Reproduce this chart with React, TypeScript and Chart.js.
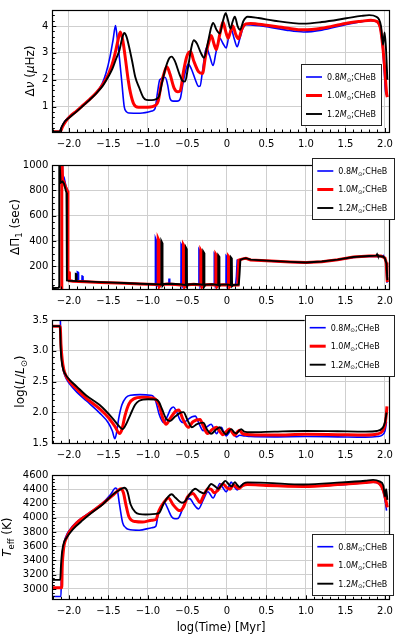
import React, { useEffect, useRef } from "react";
import { Chart, registerables } from "chart.js";

Chart.register(...registerables);

type Pt = [number, number];

// ---------- shared axis ----------
const xMin = -2.21;
const xMax = 2.06;
const xTicks = [-2, -1.5, -1, -0.5, 0, 0.5, 1, 1.5, 2];
const xTickLabels = ["−2.0", "−1.5", "−1.0", "−0.5", "0", "0.5", "1.0", "1.5", "2.0"];
const xTitle = "log(Time) [Myr]";

// ---------- series ----------
const seriesMass = ["0.8", "1.0", "1.2"];
const seriesTag = ";CHeB";

// ---------- panel 1 : Δν ----------
const dnuTicks = [1, 2, 3, 4];
const dnuTickLabels = ["1", "2", "3", "4"];
const dnu08: Pt[] = [
  [-2.21, 0.06], [-2.12, 0.06], [-2.09, 0.25], [-2.05, 0.45], [-1.99, 0.64], [-1.9, 0.85], [-1.82, 1.06],
  [-1.74, 1.27], [-1.65, 1.53], [-1.58, 1.85], [-1.53, 2.25], [-1.48, 2.85], [-1.44, 3.5], [-1.41, 4.02],
  [-1.39, 3.6], [-1.36, 2.8], [-1.33, 1.9], [-1.3, 1.0], [-1.27, 0.8], [-1.24, 0.76], [-1.1, 0.75],
  [-0.95, 0.83], [-0.91, 0.92], [-0.88, 1.5], [-0.85, 2.0], [-0.78, 2.08], [-0.75, 1.8], [-0.72, 1.3],
  [-0.68, 1.2], [-0.63, 1.2], [-0.59, 1.3], [-0.56, 1.8], [-0.53, 2.25], [-0.49, 2.58], [-0.45, 2.4],
  [-0.4, 2.0], [-0.36, 1.75], [-0.34, 1.76], [-0.31, 2.3], [-0.26, 3.2], [-0.22, 2.9], [-0.175, 2.53],
  [-0.14, 3.0], [-0.09, 3.55], [-0.05, 3.35], [-0.01, 3.18], [0.02, 3.55], [0.054, 3.88], [0.09, 3.55],
  [0.13, 3.23], [0.16, 3.5], [0.2, 3.9], [0.24, 4.05], [0.3, 4.04], [0.5, 3.98], [0.75, 3.85], [0.97, 3.78],
  [1.2, 3.85], [1.5, 4.05], [1.7, 4.16], [1.82, 4.2], [1.9, 4.15], [1.94, 3.9], [1.97, 3.2], [1.99, 2.35],
  [2.01, 1.5], [2.02, 1.45],
];
const dnu10: Pt[] = [
  [-2.21, 0.06], [-2.11, 0.06], [-2.08, 0.25], [-2.04, 0.45], [-1.99, 0.62], [-1.9, 0.84], [-1.82, 1.05],
  [-1.74, 1.26], [-1.65, 1.52], [-1.57, 1.83], [-1.5, 2.2], [-1.45, 2.6], [-1.41, 3.05], [-1.38, 3.45],
  [-1.35, 3.78], [-1.32, 3.5], [-1.29, 2.9], [-1.25, 2.0], [-1.22, 1.5], [-1.18, 1.1], [-1.12, 0.97],
  [-1.0, 0.97], [-0.9, 1.05], [-0.87, 1.2], [-0.83, 1.85], [-0.79, 2.3], [-0.76, 2.48], [-0.72, 2.2],
  [-0.67, 1.7], [-0.62, 1.55], [-0.59, 1.6], [-0.55, 2.3], [-0.51, 2.85], [-0.46, 3.05], [-0.42, 2.7],
  [-0.36, 2.3], [-0.31, 2.23], [-0.27, 2.9], [-0.22, 3.5], [-0.2, 3.65], [-0.16, 3.3], [-0.135, 3.12],
  [-0.09, 3.7], [-0.05, 4.15], [-0.02, 3.85], [0.015, 3.55], [0.045, 3.8], [0.075, 4.0], [0.11, 3.7],
  [0.146, 3.53], [0.19, 3.9], [0.24, 4.08], [0.3, 4.1], [0.5, 4.03], [0.75, 3.93], [0.97, 3.86], [1.2, 3.92],
  [1.5, 4.1], [1.7, 4.18], [1.82, 4.22], [1.9, 4.17], [1.94, 3.95], [1.97, 3.3], [2.0, 2.3], [2.02, 1.5],
  [2.03, 1.35],
];
const dnu12: Pt[] = [
  [-2.21, 0.06], [-2.12, 0.06], [-2.09, 0.25], [-2.05, 0.45], [-1.99, 0.6], [-1.9, 0.82], [-1.82, 1.03],
  [-1.74, 1.24], [-1.65, 1.5], [-1.57, 1.78], [-1.5, 2.12], [-1.45, 2.4], [-1.4, 2.8], [-1.36, 3.1],
  [-1.33, 3.5], [-1.3, 3.74], [-1.27, 3.6], [-1.24, 3.25], [-1.2, 2.7], [-1.16, 2.1], [-1.11, 1.7],
  [-1.06, 1.35], [-1.02, 1.25], [-0.95, 1.24], [-0.9, 1.27], [-0.86, 1.38], [-0.82, 1.9], [-0.78, 2.4],
  [-0.73, 2.8], [-0.7, 2.86], [-0.66, 2.7], [-0.6, 2.2], [-0.56, 1.95], [-0.53, 1.93], [-0.49, 2.5],
  [-0.45, 3.2], [-0.42, 3.47], [-0.38, 3.35], [-0.33, 3.0], [-0.29, 2.82], [-0.24, 3.4], [-0.2, 3.95],
  [-0.175, 4.12], [-0.13, 3.85], [-0.09, 3.72], [-0.05, 4.2], [-0.016, 4.48], [0.015, 4.2], [0.045, 3.9],
  [0.07, 4.15], [0.1, 4.35], [0.135, 4.0], [0.165, 3.86], [0.21, 4.2], [0.26, 4.35], [0.4, 4.3], [0.6, 4.2],
  [0.97, 4.09], [1.2, 4.15], [1.51, 4.29], [1.7, 4.38], [1.8, 4.41], [1.89, 4.35], [1.95, 4.0], [1.975, 3.3],
  [1.995, 3.76], [2.012, 3.2], [2.03, 2.0],
];

// ---------- panel 2 : ΔΠ1 ----------
const dpTicks = [200, 400, 600, 800, 1000];
const dpTickLabels = ["200", "400", "600", "800", "1000"];
const dp08: Pt[] = [
  [-2.21, 5], [-2.088, 5], [-2.085, 1100], [-2.08, 925], [-2.06, 900], [-2.04, 840], [-2.025, 810],
  [-2.015, 800], [-2.008, 90], [-1.95, 84], [-1.895, 82], [-1.893, 155], [-1.88, 150], [-1.878, 82],
  [-1.835, 80], [-1.833, 122], [-1.822, 120], [-1.82, 80], [-1.6, 72], [-1.3, 66], [-1.1, 61], [-0.92, 56],
  [-0.907, 55], [-0.905, 424], [-0.893, 405], [-0.89, 40], [-0.87, 55], [-0.8, 60], [-0.735, 58],
  [-0.733, 103], [-0.725, 100], [-0.723, 58], [-0.6, 52], [-0.582, 50], [-0.58, 374], [-0.568, 360],
  [-0.565, 38], [-0.55, 55], [-0.45, 58], [-0.37, 52], [-0.356, 50], [-0.354, 332], [-0.342, 318],
  [-0.339, 38], [-0.325, 52], [-0.25, 56], [-0.175, 50], [-0.162, 50], [-0.16, 299], [-0.148, 288],
  [-0.145, 40], [-0.13, 52], [-0.06, 54], [-0.012, 50], [-0.01, 282], [0.002, 272], [0.005, 40], [0.02, 50],
  [0.08, 52], [0.11, 52], [0.12, 120], [0.13, 248], [0.2, 258], [0.24, 262], [0.3, 250], [0.5, 242],
  [0.8, 232], [1.0, 228], [1.2, 235], [1.4, 250], [1.6, 270], [1.8, 280], [1.95, 278], [1.98, 285],
  [1.99, 272], [2.01, 240], [2.02, 150], [2.025, 70],
];
const dp10: Pt[] = [
  [-2.21, 5], [-2.092, 5], [-2.09, 1100], [-2.08, 880], [-2.065, 870], [-2.045, 830], [-2.03, 810],
  [-2.02, 795], [-2.012, 90], [-2.01, 155], [-1.995, 150], [-1.993, 85], [-1.95, 82], [-1.8, 78],
  [-1.6, 72], [-1.3, 65], [-1.1, 60], [-0.9, 55], [-0.872, 54], [-0.87, 415], [-0.858, 398], [-0.855, 40],
  [-0.835, 55], [-0.75, 60], [-0.65, 55], [-0.552, 50], [-0.55, 366], [-0.538, 352], [-0.535, 38],
  [-0.52, 52], [-0.42, 58], [-0.332, 52], [-0.33, 325], [-0.318, 312], [-0.315, 38], [-0.3, 52],
  [-0.2, 55], [-0.142, 50], [-0.14, 293], [-0.128, 282], [-0.125, 40], [-0.11, 52], [-0.04, 54],
  [0.018, 50], [0.02, 276], [0.032, 266], [0.035, 40], [0.05, 50], [0.13, 52], [0.14, 130], [0.15, 248],
  [0.2, 258], [0.24, 263], [0.3, 250], [0.5, 243], [0.8, 233], [1.0, 229], [1.2, 236], [1.4, 251],
  [1.6, 272], [1.8, 280], [1.95, 280], [2.0, 265], [2.015, 230], [2.025, 120], [2.03, 75],
];
const dp12: Pt[] = [
  [-2.21, 26], [-2.13, 30], [-2.125, 38], [-2.122, 1100], [-2.105, 860], [-2.08, 870], [-2.06, 850],
  [-2.04, 800], [-2.03, 780], [-2.025, 88], [-1.99, 85], [-1.915, 82], [-1.913, 140], [-1.905, 138],
  [-1.903, 82], [-1.8, 80], [-1.6, 74], [-1.3, 67], [-1.1, 62], [-0.9, 58], [-0.832, 56], [-0.83, 399],
  [-0.818, 383], [-0.815, 45], [-0.795, 60], [-0.7, 62], [-0.6, 58], [-0.522, 52], [-0.52, 349],
  [-0.508, 335], [-0.505, 42], [-0.49, 56], [-0.4, 60], [-0.302, 54], [-0.3, 317], [-0.288, 305],
  [-0.285, 40], [-0.27, 55], [-0.18, 58], [-0.112, 52], [-0.11, 287], [-0.098, 276], [-0.095, 42],
  [-0.08, 55], [0.0, 56], [0.048, 52], [0.05, 270], [0.062, 260], [0.065, 42], [0.08, 52], [0.15, 55],
  [0.16, 140], [0.17, 250], [0.2, 258], [0.24, 264], [0.3, 252], [0.5, 244], [0.8, 234], [1.0, 230],
  [1.2, 237], [1.4, 252], [1.6, 273], [1.8, 281], [1.89, 284], [1.9, 295], [1.91, 282], [1.98, 275],
  [2.0, 262], [2.02, 220], [2.03, 90],
];

// ---------- panel 3 : log L ----------
const lumTicks = [1.5, 2.0, 2.5, 3.0, 3.5];
const lumTickLabels = ["1.5", "2.0", "2.5", "3.0", "3.5"];
const lum08: Pt[] = [
  [-2.21, 3.8], [-2.112, 3.8], [-2.105, 3.3], [-2.095, 2.95], [-2.08, 2.75], [-2.06, 2.63], [-2.03, 2.54],
  [-1.99, 2.46], [-1.9, 2.33], [-1.78, 2.19], [-1.61, 1.99], [-1.5, 1.83], [-1.45, 1.7], [-1.42, 1.575],
  [-1.4, 1.65], [-1.37, 1.9], [-1.33, 2.12], [-1.28, 2.24], [-1.22, 2.28], [-1.1, 2.29], [-0.97, 2.28],
  [-0.93, 2.26], [-0.9, 2.18], [-0.86, 1.98], [-0.82, 1.86], [-0.8, 1.835], [-0.76, 1.92], [-0.71, 2.06],
  [-0.675, 2.09], [-0.64, 2.02], [-0.59, 1.87], [-0.55, 1.835], [-0.5, 1.88], [-0.44, 1.93], [-0.4, 1.94],
  [-0.36, 1.84], [-0.3, 1.705], [-0.25, 1.77], [-0.2, 1.81], [-0.16, 1.72], [-0.13, 1.655], [-0.1, 1.72],
  [-0.07, 1.76], [-0.04, 1.68], [-0.01, 1.62], [0.02, 1.66], [0.054, 1.72], [0.09, 1.65], [0.12, 1.605],
  [0.16, 1.63], [0.2, 1.625], [0.3, 1.61], [0.6, 1.605], [1.0, 1.61], [1.4, 1.605], [1.75, 1.6], [1.9, 1.61],
  [1.96, 1.63], [2.0, 1.7], [2.02, 1.85],
];
const lum10: Pt[] = [
  [-2.21, 3.4], [-2.11, 3.4], [-2.1, 3.1], [-2.085, 2.86], [-2.065, 2.7], [-2.035, 2.59], [-1.99, 2.5],
  [-1.9, 2.38], [-1.78, 2.23], [-1.61, 2.06], [-1.5, 1.92], [-1.42, 1.78], [-1.36, 1.66], [-1.33, 1.72],
  [-1.29, 1.95], [-1.24, 2.14], [-1.18, 2.22], [-1.07, 2.245], [-0.95, 2.235], [-0.9, 2.21], [-0.86, 2.12],
  [-0.81, 1.9], [-0.77, 1.81], [-0.72, 1.9], [-0.65, 2.02], [-0.61, 2.04], [-0.56, 1.9], [-0.49, 1.76],
  [-0.43, 1.85], [-0.34, 1.885], [-0.3, 1.78], [-0.245, 1.66], [-0.19, 1.72], [-0.13, 1.76], [-0.09, 1.69],
  [-0.05, 1.64], [-0.01, 1.69], [0.033, 1.73], [0.07, 1.67], [0.096, 1.63], [0.13, 1.68], [0.16, 1.71],
  [0.2, 1.655], [0.3, 1.64], [0.6, 1.635], [1.0, 1.645], [1.4, 1.64], [1.75, 1.635], [1.9, 1.65],
  [1.97, 1.7], [2.0, 1.8], [2.015, 1.95], [2.025, 2.1],
];
const lum12: Pt[] = [
  [-2.21, 3.4], [-2.112, 3.4], [-2.104, 3.05], [-2.09, 2.82], [-2.07, 2.69], [-2.04, 2.61], [-1.99, 2.53],
  [-1.9, 2.42], [-1.78, 2.275], [-1.61, 2.12], [-1.45, 1.91], [-1.36, 1.77], [-1.32, 1.73], [-1.28, 1.8],
  [-1.22, 1.97], [-1.16, 2.13], [-1.11, 2.19], [-1.0, 2.215], [-0.9, 2.21], [-0.86, 2.17], [-0.82, 2.05],
  [-0.77, 1.9], [-0.72, 1.86], [-0.66, 1.93], [-0.58, 2.0], [-0.55, 2.005], [-0.5, 1.88], [-0.445, 1.76],
  [-0.38, 1.81], [-0.3, 1.835], [-0.25, 1.72], [-0.2, 1.655], [-0.14, 1.72], [-0.09, 1.76], [-0.05, 1.69],
  [-0.01, 1.645], [0.02, 1.69], [0.054, 1.73], [0.09, 1.68], [0.12, 1.66], [0.15, 1.7], [0.18, 1.73],
  [0.22, 1.69], [0.3, 1.68], [0.6, 1.69], [1.0, 1.7], [1.4, 1.695], [1.75, 1.69], [1.9, 1.7], [1.97, 1.75],
  [2.0, 1.84], [2.02, 2.0],
];

// ---------- panel 4 : Teff ----------
const teffTicks = [3000, 3200, 3400, 3600, 3800, 4000, 4200, 4400, 4600];
const teffTickLabels = ["3000", "3200", "3400", "3600", "3800", "4000", "4200", "4400", "4600"];
const teff08: Pt[] = [
  [-2.21, 2895], [-2.1, 2895], [-2.095, 3200], [-2.085, 3450], [-2.07, 3600], [-2.04, 3730], [-1.99, 3830],
  [-1.9, 3940], [-1.82, 4010], [-1.7, 4100], [-1.57, 4210], [-1.47, 4330], [-1.41, 4417], [-1.39, 4400],
  [-1.36, 4190], [-1.32, 3930], [-1.28, 3860], [-1.25, 3838], [-1.11, 3825], [-0.95, 3860], [-0.9, 3882],
  [-0.87, 4050], [-0.84, 4145], [-0.79, 4211], [-0.75, 4130], [-0.7, 4013], [-0.66, 3985], [-0.62, 3990],
  [-0.57, 4100], [-0.53, 4230], [-0.47, 4268], [-0.42, 4190], [-0.36, 4124], [-0.3, 4250], [-0.24, 4364],
  [-0.175, 4277], [-0.13, 4380], [-0.09, 4480], [-0.05, 4420], [-0.01, 4364], [0.025, 4440], [0.054, 4500],
  [0.09, 4440], [0.13, 4390], [0.18, 4455], [0.23, 4480], [0.3, 4472], [0.6, 4455], [1.0, 4440],
  [1.4, 4460], [1.7, 4490], [1.85, 4500], [1.92, 4480], [1.97, 4400], [2.0, 4250], [2.02, 4100],
];
const teff10: Pt[] = [
  [-2.21, 3018], [-2.09, 3018], [-2.085, 3300], [-2.075, 3480], [-2.06, 3620], [-2.03, 3720], [-1.99, 3810],
  [-1.9, 3930], [-1.82, 4000], [-1.7, 4090], [-1.57, 4200], [-1.45, 4310], [-1.37, 4390], [-1.34, 4408],
  [-1.31, 4350], [-1.28, 4190], [-1.24, 4013], [-1.2, 3960], [-1.16, 3947], [-1.07, 3940], [-0.95, 3965],
  [-0.9, 3975], [-0.86, 4100], [-0.8, 4211], [-0.74, 4277], [-0.68, 4180], [-0.62, 4110], [-0.59, 4101],
  [-0.55, 4150], [-0.5, 4290], [-0.43, 4342], [-0.38, 4270], [-0.34, 4211], [-0.3, 4300], [-0.24, 4408],
  [-0.2, 4400], [-0.16, 4350], [-0.12, 4380], [-0.05, 4474], [0.0, 4420], [0.04, 4400], [0.08, 4460],
  [0.12, 4430], [0.15, 4410], [0.2, 4450], [0.26, 4465], [0.5, 4452], [0.97, 4440], [1.4, 4465],
  [1.75, 4495], [1.85, 4505], [1.93, 4480], [1.98, 4380], [2.01, 4250], [2.03, 4145],
];
const teff12: Pt[] = [
  [-2.21, 3127], [-2.11, 3127], [-2.1, 3330], [-2.085, 3531], [-2.06, 3660], [-2.03, 3720], [-1.95, 3838],
  [-1.82, 3970], [-1.7, 4079], [-1.57, 4190], [-1.45, 4321], [-1.36, 4390], [-1.3, 4420], [-1.26, 4370],
  [-1.22, 4190], [-1.16, 4079], [-1.1, 4050], [-1.03, 4045], [-0.9, 4055], [-0.86, 4066], [-0.8, 4200],
  [-0.74, 4300], [-0.7, 4330], [-0.65, 4280], [-0.57, 4211], [-0.53, 4230], [-0.46, 4350], [-0.4, 4408],
  [-0.35, 4370], [-0.29, 4342], [-0.25, 4400], [-0.2, 4474], [-0.15, 4440], [-0.11, 4408], [-0.06, 4470],
  [-0.02, 4518], [0.03, 4460], [0.06, 4440], [0.1, 4500], [0.13, 4460], [0.16, 4430], [0.21, 4480],
  [0.26, 4496], [0.5, 4490], [0.97, 4466], [1.45, 4496], [1.75, 4520], [1.85, 4531], [1.93, 4510],
  [1.98, 4450], [2.0, 4300], [2.015, 4400], [2.03, 4250],
];

// ---------- styles ----------
const COLORS = ["#0000ff", "#ff0000", "#000000"];
const WIDTHS = [1.6, 3, 1.9];
const FONT = '"DejaVu Sans", sans-serif';

type Seg = { t: string; i?: boolean; sub?: boolean };

interface Panel {
  top: number;
  height: number;
  plotTop: number;
  plotBottom: number;
  yMin: number;
  yMax: number;
  yTicks: number[];
  yTickLabels: string[];
  yMinorDiv: number;
  title: Seg[];
  titleX: number;
  legend: { x: number; y: number; w: number };
  series: Pt[][];
  smooth: boolean;
  showXTitle: boolean;
}

const panels: Panel[] = [
  {
    top: 0, height: 155, plotTop: 3.3, plotBottom: 132, yMin: 0.05, yMax: 4.6,
    yTicks: dnuTicks, yTickLabels: dnuTickLabels, yMinorDiv: 5,
    title: [{ t: "Δ" }, { t: "ν", i: true }, { t: " (" }, { t: "μ", i: true }, { t: "Hz)" }],
    titleX: 30, legend: { x: 301, y: 64.3, w: 80 }, series: [dnu08, dnu10, dnu12], smooth: true, showXTitle: false,
  },
  {
    top: 155, height: 155, plotTop: 158.5, plotBottom: 289, yMin: 20, yMax: 1000,
    yTicks: dpTicks, yTickLabels: dpTickLabels, yMinorDiv: 4,
    title: [{ t: "ΔΠ" }, { t: "1", sub: true }, { t: " (sec)" }],
    titleX: 15, legend: { x: 312.3, y: 158.3, w: 82 }, series: [dp08, dp10, dp12], smooth: false, showXTitle: false,
  },
  {
    top: 310, height: 155, plotTop: 314.7, plotBottom: 443.3, yMin: 1.5, yMax: 3.5,
    yTicks: lumTicks, yTickLabels: lumTickLabels, yMinorDiv: 5,
    title: [{ t: "log(" }, { t: "L", i: true }, { t: "/" }, { t: "L", i: true }, { t: "⊙", sub: true }, { t: ")" }],
    titleX: 20, legend: { x: 304.7, y: 315, w: 88.6 }, series: [lum08, lum10, lum12], smooth: true, showXTitle: false,
  },
  {
    top: 465, height: 171, plotTop: 468.3, plotBottom: 599.3, yMin: 2855, yMax: 4600,
    yTicks: teffTicks, yTickLabels: teffTickLabels, yMinorDiv: 4,
    title: [{ t: "T", i: true }, { t: "eff", sub: true }, { t: " (K)" }],
    titleX: 7, legend: { x: 312.3, y: 534, w: 81 }, series: [teff08, teff10, teff12], smooth: true, showXTitle: true,
  },
];

function segFont(s: Seg, size: number) {
  return `${s.i ? "italic " : ""}${s.sub ? size * 0.7 : size}px ${FONT}`;
}

function drawRich(ctx: CanvasRenderingContext2D, segs: Seg[], size: number, x: number, y: number, rotate: boolean, align: "center" | "left") {
  const widths = segs.map((s) => {
    ctx.font = segFont(s, size);
    return ctx.measureText(s.t).width;
  });
  const total = widths.reduce((a, b) => a + b, 0);
  ctx.save();
  ctx.translate(x, y);
  if (rotate) ctx.rotate(-Math.PI / 2);
  ctx.fillStyle = "#000";
  ctx.textBaseline = "alphabetic";
  ctx.textAlign = "left";
  let cx = align === "center" ? -total / 2 : 0;
  const base = size * 0.36;
  segs.forEach((s, k) => {
    ctx.font = segFont(s, size);
    ctx.fillText(s.t, cx, s.sub ? base + size * 0.22 : base);
    cx += widths[k];
  });
  ctx.restore();
}

function minorValues(ticks: number[], div: number, min: number, max: number) {
  const step = (ticks[1] - ticks[0]) / div;
  const out: { v: number; major: boolean }[] = [];
  let start = ticks[0];
  while (start - step >= min - 1e-9) start -= step;
  for (let v = start; v <= max + 1e-9; v += step) {
    const major = ticks.some((t) => Math.abs(t - v) < step * 0.01);
    out.push({ v, major });
  }
  return out;
}

function PanelChart({ p }: { p: Panel }) {
  const ref = useRef<HTMLCanvasElement>(null);
  useEffect(() => {
    const canvas = ref.current!;
    const framePlugin = {
      id: "frame",
      afterDatasetsDraw(chart: any) {
        const ctx: CanvasRenderingContext2D = chart.ctx;
        const ca = chart.chartArea;
        const xs = chart.scales.x;
        const ys = chart.scales.y;
        ctx.save();
        ctx.strokeStyle = "#000";
        ctx.lineWidth = 1;
        // inward ticks
        minorValues(xTicks, 5, xMin, xMax).forEach(({ v, major }) => {
          const px = Math.round(xs.getPixelForValue(v)) + 0.5;
          if (px < ca.left || px > ca.right) return;
          ctx.beginPath();
          ctx.moveTo(px, ca.bottom);
          ctx.lineTo(px, ca.bottom - (major ? 4 : 2.5));
          ctx.stroke();
        });
        minorValues(p.yTicks, p.yMinorDiv, p.yMin, p.yMax).forEach(({ v, major }) => {
          const py = Math.round(ys.getPixelForValue(v)) + 0.5;
          if (py < ca.top - 0.5 || py > ca.bottom + 0.5) return;
          ctx.beginPath();
          ctx.moveTo(ca.left, py);
          ctx.lineTo(ca.left + (major ? 4 : 2.5), py);
          ctx.stroke();
        });
        // spines
        ctx.lineWidth = 1.2;
        ctx.strokeRect(Math.round(ca.left) + 0.5, Math.round(ca.top) + 0.5, Math.round(ca.right - ca.left), Math.round(ca.bottom - ca.top));
        ctx.restore();
      },
      afterDraw(chart: any) {
        const ctx: CanvasRenderingContext2D = chart.ctx;
        const ca = chart.chartArea;
        // legend
        const lx = p.legend.x;
        const ly = p.legend.y - p.top;
        ctx.save();
        ctx.fillStyle = "#fff";
        ctx.fillRect(lx, ly, p.legend.w, 61);
        ctx.strokeStyle = "#222";
        ctx.lineWidth = 1;
        ctx.strokeRect(Math.round(lx) + 0.5, Math.round(ly) + 0.5, Math.round(p.legend.w), 61);
        const rows = [12.7, 31.2, 49.7];
        seriesMass.forEach((m, k) => {
          const ry = ly + rows[k];
          ctx.strokeStyle = COLORS[k];
          ctx.lineWidth = WIDTHS[k];
          ctx.beginPath();
          ctx.moveTo(lx + 5, ry);
          ctx.lineTo(lx + 21, ry);
          ctx.stroke();
          drawRich(ctx, [{ t: m }, { t: "M", i: true }, { t: "⊙", sub: true }, { t: seriesTag }], 8, lx + 26, ry, false, "left");
        });
        ctx.restore();
        // y title
        drawRich(ctx, p.title, 12, p.titleX, (ca.top + ca.bottom) / 2, true, "center");
        if (p.showXTitle) {
          drawRich(ctx, [{ t: xTitle }], 11.5, (ca.left + ca.right) / 2, 627 - p.top, false, "center");
        }
      },
    };

    const chart = new Chart(canvas, {
      type: "line",
      data: {
        datasets: p.series.map((s, k) => ({
          label: seriesMass[k],
          data: s.map(([x, y]) => ({ x, y })),
          borderColor: COLORS[k],
          borderWidth: WIDTHS[k],
          pointRadius: 0,
          fill: false,
          clip: 0,
          order: 2 - k,
          tension: 0,
          cubicInterpolationMode: p.smooth ? "monotone" : "default",
        })),
      },
      options: {
        animation: false,
        responsive: false,
        maintainAspectRatio: false,
        devicePixelRatio: 1,
        events: [],
        layout: { padding: { left: 0, right: 5, top: p.plotTop - p.top, bottom: 0 } },
        plugins: { legend: { display: false }, tooltip: { enabled: false }, title: { display: false } },
        scales: {
          x: {
            type: "linear",
            min: xMin,
            max: xMax,
            afterBuildTicks: (sc: any) => {
              sc.ticks = xTicks.map((v) => ({ value: v }));
            },
            afterFit: (sc: any) => {
              sc.height = p.height - (p.plotBottom - p.top);
            },
            ticks: {
              autoSkip: false,
              maxRotation: 0,
              padding: 6,
              color: "#000",
              font: { family: FONT, size: 10 },
              callback: (v: any) => {
                const i = xTicks.findIndex((t) => Math.abs(t - Number(v)) < 1e-6);
                return i >= 0 ? xTickLabels[i] : "";
              },
            },
            grid: { color: "#cfcfcf", lineWidth: 1, drawTicks: false },
            border: { display: false },
          },
          y: {
            type: "linear",
            min: p.yMin,
            max: p.yMax,
            afterBuildTicks: (sc: any) => {
              sc.ticks = p.yTicks.map((v) => ({ value: v }));
            },
            afterFit: (sc: any) => {
              sc.width = 52.3;
            },
            ticks: {
              autoSkip: false,
              padding: 4,
              color: "#000",
              font: { family: FONT, size: 10 },
              callback: (v: any) => {
                const i = p.yTicks.findIndex((t) => Math.abs(t - Number(v)) < 1e-6);
                return i >= 0 ? p.yTickLabels[i] : "";
              },
            },
            grid: { color: "#cfcfcf", lineWidth: 1, drawTicks: false },
            border: { display: false },
          },
        },
      } as any,
      plugins: [framePlugin],
    });
    return () => chart.destroy();
  }, [p]);
  return (
    <canvas
      ref={ref}
      width={399}
      height={p.height}
      style={{ position: "absolute", left: 0, top: p.top, width: 399, height: p.height, display: "block" }}
    />
  );
}

export default function App() {
  return (
    <div style={{ position: "absolute", left: 0, top: 0, width: 399, height: 636, background: "#fff", overflow: "hidden" }}>
      {panels.map((p, i) => (
        <PanelChart key={i} p={p} />
      ))}
    </div>
  );
}
